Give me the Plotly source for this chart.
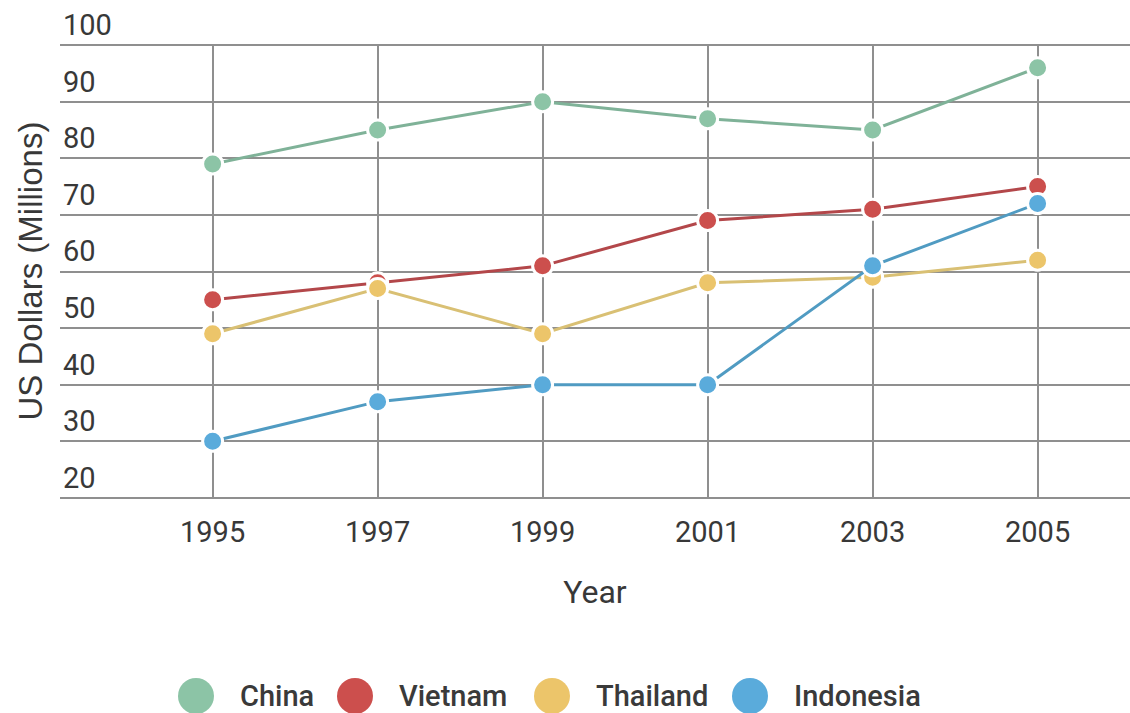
import plotly.graph_objects as go

years = [1995, 1997, 1999, 2001, 2003, 2005]
china = [79, 85, 90, 87, 85, 96]
vietnam = [55, 58, 61, 69, 71, 75]
thailand = [49, 57, 49, 58, 59, 62]
indonesia = [30, 37, 40, 40, 61, 72]

series_names = ["China", "Vietnam", "Thailand", "Indonesia"]
series_values = [china, vietnam, thailand, indonesia]
marker_colors = ["#8cc4a6", "#cc4f4d", "#ecc56a", "#5aabdb"]
line_colors = ["#7fb298", "#b3474a", "#d9c074", "#509bc2"]

y_ticks = [20, 30, 40, 50, 60, 70, 80, 90, 100]

FONT = "Roboto"
TXT = "#383838"
fig = go.Figure()
for name, vals, mc, lc in zip(series_names, series_values, marker_colors, line_colors):
    fig.add_trace(go.Scatter(
        x=years, y=vals, name=name, mode="lines+markers",
        line=dict(color=lc, width=3),
        marker=dict(color=mc, size=20, line=dict(color="white", width=3)),
        showlegend=False,
    ))

fig.update_layout(
    width=1130, height=713,
    margin=dict(l=60, r=0, t=44, b=214),
    paper_bgcolor="white", plot_bgcolor="white",
    font=dict(family=FONT, size=29, color=TXT),
    xaxis=dict(
        range=[1993.15, 2006.12], tickvals=years, ticktext=[str(y) for y in years],
        showgrid=True, gridcolor="#8f8f8f", gridwidth=2, zeroline=False,
        showline=False, ticks="", ticklabelstandoff=13,
        tickfont=dict(size=29, color=TXT),
        title=dict(text="Year", standoff=32, font=dict(size=32, color=TXT)),
    ),
    yaxis=dict(
        range=[19.8, 100.2], tickvals=y_ticks,
        showgrid=True, gridcolor="#8f8f8f", gridwidth=2, zeroline=False,
        showline=False, ticks="", ticklabelposition="inside top",
        ticklabeloverflow="allow",
        tickfont=dict(size=29, color=TXT),
    ),
)

# y-axis title
fig.add_annotation(text="US Dollars (Millions)", xref="paper", yref="paper",
                   x=(30 - 60) / 1070, y=0.5, xanchor="center", yanchor="middle",
                   textangle=-90, showarrow=False,
                   font=dict(family="Liberation Sans", size=33, color=TXT))

# custom legend (large circles + labels)
leg_x = [196, 355, 552, 750]
r = 18
for name, mc, cx in zip(series_names, marker_colors, leg_x):
    fig.add_shape(type="circle", xref="paper", yref="paper",
                  x0=(cx - r - 60) / 1070, x1=(cx + r - 60) / 1070,
                  y0=-(696 + r - 499) / 455, y1=-(696 - r - 499) / 455,
                  fillcolor=mc, line=dict(width=0))
    fig.add_annotation(text=name, xref="paper", yref="paper",
                       x=(cx + 42 - 60) / 1070, y=-(696 - 499) / 455,
                       xanchor="left", yanchor="middle", showarrow=False,
                       font=dict(family=FONT, size=29, color="#3a3a3a", weight=500))

fig.write_html("out.html")
